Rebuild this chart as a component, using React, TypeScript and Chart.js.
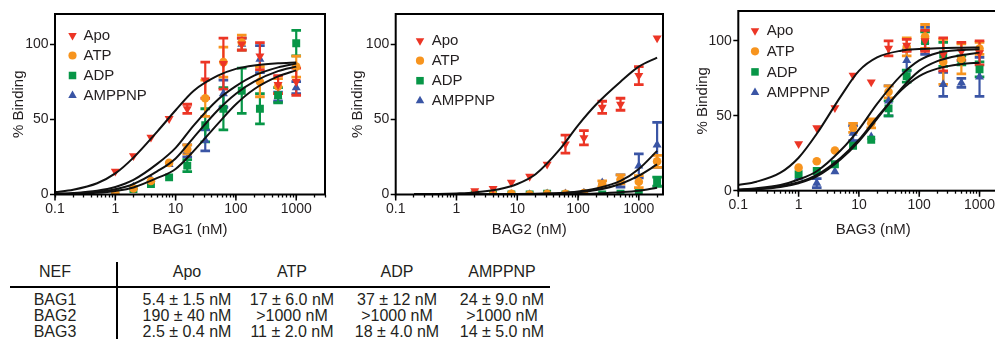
import React, { useEffect, useRef } from 'react';
import { Chart, registerables } from 'chart.js';
import { drawPoint } from 'chart.js/helpers';

Chart.register(...registerables);

const FONT = '"Liberation Sans", Arial, Helvetica, sans-serif';
const TEXT = '#231f20';

// ---------- shared labels / ticks ----------
const seriesNames = ['Apo', 'ATP', 'ADP', 'AMPPNP'];
const seriesColors = ['#ec3525', '#f7941e', '#079647', '#3a55a5'];
const seriesStyles = ['triangle', 'circle', 'rect', 'triangle'];
const seriesRotations = [180, 0, 0, 0];
const seriesRadii = [5.2, 4.3, 5.6, 5.2];

const yTickValues = [0, 50, 100];
const xTickLabels = [0.1, 1, 10, 100, 1000];
const xMinorMultipliers = [2, 3, 4, 5, 6, 7, 8, 9];

// ---------- BAG1 ----------
const bag1Conc = [1, 2, 3.9, 7.8, 15.6, 31, 62, 125, 250, 500, 1000];
const bag1Apo = [15.4, 25.7, 38, 50.4, 57, 76, 87, 100, 92, 73, 75];
const bag1ApoErr = [0, 0, 0, 0, 3, 12, 17, 4, 9, 6, 9];
const bag1ATP = [1, 4, 9, 21, 30, 64, 88, 101, 75, 72, 85];
const bag1ATPErr = [0, 0, 0, 0, 3, 12, 10, 5, 10, 5, 7];
const bag1ADP = [1, 3.6, 7, 11.4, 19.2, 46, 57, 69, 57, 66, 100.6];
const bag1ADPErr = [0, 0, 0, 0, 4, 11, 14, 15, 10, 5, 8.5];
const bag1AMPPNP = [1, 5, 10, 20, 29, 36, 67, 100, 90, 65, 71];
const bag1AMPPNPErr = [0, 0, 0, 0, 4, 7, 9, 4, 9, 3, 4];

const bag1FitX = [0.1, 0.2, 0.5, 1, 2, 5, 10, 20, 50, 100, 200, 500, 1000];
const bag1FitApo = [1.6, 3.2, 7.5, 14, 24.5, 42, 56, 69, 79, 83.5, 85.8, 87.2, 87.8];
const bag1FitATP = [0.5, 1, 2.5, 5, 9.7, 20.5, 31, 46, 63, 72, 79, 84.5, 87];
const bag1FitADP = [0.25, 0.5, 1.2, 2.4, 4.7, 11, 17, 29, 47, 60, 70, 78.5, 82.5];
const bag1FitAMPPNP = [0.35, 0.7, 1.8, 3.5, 7, 15.5, 24, 38, 56, 67, 75, 82, 85];

// ---------- BAG2 ----------
const bag2Conc = [2, 4, 8, 16, 31, 62, 125, 250, 500, 1000, 2000];
const bag2Apo = [2.5, 4, 8, 12, 20, 33.5, 37.7, 58, 60, 79, 104];
const bag2ApoErr = [0, 0, 0, 0, 0, 6, 4.7, 4, 4, 6, 0];
const bag2ATP = [0, 0, 0.5, 0, 0.5, 0.5, 1, 7, 10, 8.5, 22];
const bag2ATPErr = [0, 0, 0, 0, 0, 0, 0, 2, 3, 4, 4];
const bag2ADP = [0, 0, 0, 0, 0.5, 0, 0, 0, 0.5, 1, 8.5];
const bag2ADPErr = [0, 0, 0, 0, 0, 0, 0, 0, 0, 0, 3];
const bag2AMPPNP = [0, 0, 0, 0, 0.5, 0.5, 1, 7.8, 9, 19, 33];
const bag2AMPPNPErr = [0, 0, 0, 0, 0, 0, 0, 0, 4, 8, 15];

const bag2FitX = [0.2, 0.5, 1, 2, 5, 10, 20, 50, 100, 200, 500, 1000, 2000];
const bag2FitApo = [0.1, 0.3, 0.7, 1.4, 3.5, 7, 13.5, 30, 46, 60, 75, 85, 91];
const bag2FitATP = [0, 0, 0, 0, 0.1, 0.2, 0.4, 0.8, 1.5, 3, 7, 12.5, 20];
const bag2FitADP = [0, 0, 0, 0, 0, 0, 0.1, 0.2, 0.3, 0.7, 1.5, 2.5, 4.5];
const bag2FitAMPPNP = [0, 0, 0, 0.1, 0.2, 0.3, 0.5, 1, 2, 4, 9, 17, 29];

// ---------- BAG3 ----------
const bag3Conc = [1, 2, 4, 8, 16, 31, 62, 125, 250, 500, 1000];
const bag3Apo = [31.3, 41.9, 55.3, 77, 72.5, 95, 97, 100, 91, 93, 92];
const bag3ApoErr = [0, 0, 0, 0, 0, 5, 4, 7, 11, 6, 8];
const bag3ATP = [15.4, 19.7, 26.8, 42, 45, 66, 96, 103, 86, 88, 95];
const bag3ATPErr = [0, 0, 0, 3, 3, 4, 6, 8, 15, 10, 4];
const bag3ADP = [11, 13.2, 17.7, 30, 34, 55, 76.5, 100, 91, 87, 81];
const bag3ADPErr = [0, 0, 0, 0, 0, 5, 4, 6, 8, 3, 5];
const bag3AMPPNP = [9, 5, 12.8, 38.5, 36, 60, 87, 100, 71, 72, 76];
const bag3AMPPNPErr = [0, 3, 0, 5, 0, 10, 7, 9, 8, 3, 13];

const bag3FitX = [0.1, 0.2, 0.5, 1, 2, 5, 10, 20, 50, 100, 200, 500, 1000];
const bag3FitApo = [3.8, 6, 12, 22, 38, 63, 80, 89, 93.5, 94.6, 95.2, 95.5, 95.6];
const bag3FitATP = [0.8, 1.6, 3.8, 7.5, 13, 27, 41, 58, 77, 87, 92, 94, 94.5];
const bag3FitADP = [0.5, 1, 2.5, 5, 9.5, 21, 33, 48, 68, 80, 86.5, 90.5, 92.2];
const bag3FitAMPPNP = [0.6, 1.2, 2.9, 5.6, 10.5, 22, 34, 49, 67, 76.5, 81.5, 84.5, 85.5];

// ---------- table ----------
const tableHeader = ['NEF', 'Apo', 'ATP', 'ADP', 'AMPPNP'];
const tableRows = [
  ['BAG1', '5.4 ± 1.5 nM', '17 ± 6.0 nM', '37 ± 12 nM', '24 ± 9.0 nM'],
  ['BAG2', '190 ± 40 nM', '>1000 nM', '>1000 nM', '>1000 nM'],
  ['BAG3', '2.5 ± 0.4 nM', '11 ± 2.0 nM', '18 ± 4.0 nM', '14 ± 5.0 nM'],
];

// ---------- layout (not data) ----------
type Panel = {
  title: string;
  xMax: number;
  conc: number[];
  values: number[][];
  errors: number[][];
  fitX: number[];
  fits: number[][];
  box: { left: number; top: number; width: number; height: number };
  area: { left: number; top: number; right: number; bottom: number };
  yTitlePad: number;
  xTitlePad: number;
  legend: { dx: number; dy: number; textDx: number; step: number };
};

const panels: Panel[] = [
  {
    title: 'BAG1 (nM)', xMax: 3000, conc: bag1Conc,
    values: [bag1Apo, bag1ATP, bag1ADP, bag1AMPPNP],
    errors: [bag1ApoErr, bag1ATPErr, bag1ADPErr, bag1AMPPNPErr],
    fitX: bag1FitX, fits: [bag1FitApo, bag1FitATP, bag1FitADP, bag1FitAMPPNP],
    box: { left: 0, top: 0, width: 340, height: 240 },
    area: { left: 55, top: 14, right: 325, bottom: 194.5 },
    yTitlePad: 9.5, xTitlePad: 1,
    legend: { dx: 17.5, dy: 21.5, textDx: 28.5, step: 20 },
  },
  {
    title: 'BAG2 (nM)', xMax: 2500, conc: bag2Conc,
    values: [bag2Apo, bag2ATP, bag2ADP, bag2AMPPNP],
    errors: [bag2ApoErr, bag2ATPErr, bag2ADPErr, bag2AMPPNPErr],
    fitX: bag2FitX, fits: [bag2FitApo, bag2FitATP, bag2FitADP, bag2FitAMPPNP],
    box: { left: 340, top: 0, width: 340, height: 240 },
    area: { left: 55.7, top: 14, right: 323, bottom: 194.5 },
    yTitlePad: 9.3, xTitlePad: 1,
    legend: { dx: 24.3, dy: 26.7, textDx: 36, step: 20 },
  },
  {
    title: 'BAG3 (nM)', xMax: 3000, conc: bag3Conc,
    values: [bag3Apo, bag3ATP, bag3ADP, bag3AMPPNP],
    errors: [bag3ApoErr, bag3ATPErr, bag3ADPErr, bag3AMPPNPErr],
    fitX: bag3FitX, fits: [bag3FitApo, bag3FitATP, bag3FitADP, bag3FitAMPPNP],
    box: { left: 690, top: 0, width: 340, height: 240 },
    area: { left: 48.3, top: 11, right: 318.3, bottom: 190.7 },
    yTitlePad: 4.3, xTitlePad: 1,
    legend: { dx: 16.7, dy: 19.7, textDx: 28.4, step: 20.6 },
  },
];

function buildLogTicks(max: number) {
  const ticks: { value: number; major: boolean }[] = [];
  for (const decade of xTickLabels) {
    if (decade <= max) ticks.push({ value: decade, major: true });
    for (const m of xMinorMultipliers) {
      const v = +(decade * m).toPrecision(6);
      if (v <= max) ticks.push({ value: v, major: false });
    }
  }
  return ticks;
}

function buildConfig(p: Panel): any {
  const datasets: any[] = [];
  p.fits.forEach((fy, s) => {
    datasets.push({
      label: seriesNames[s] + ' fit',
      data: p.fitX.map((x, i) => ({ x, y: fy[i] })),
      showLine: true,
      borderColor: '#111111',
      borderWidth: 2,
      pointRadius: 0,
      cubicInterpolationMode: 'monotone',
      fill: false,
      order: 0,
    });
  });
  p.values.forEach((vals, s) => {
    datasets.push({
      label: seriesNames[s],
      data: p.conc.map((x, i) => ({ x, y: vals[i] })),
      errors: p.errors[s],
      showLine: false,
      pointStyle: seriesStyles[s],
      pointRotation: seriesRotations[s],
      pointRadius: seriesRadii[s],
      pointBackgroundColor: seriesColors[s],
      backgroundColor: seriesColors[s],
      borderColor: seriesColors[s],
      pointBorderWidth: 0,
      order: 1 + s,
    });
  });

  const decor = {
    id: 'decor',
    beforeDatasetsDraw(chart: any) {
      const ctx = chart.ctx;
      const xs = chart.scales.x;
      const ys = chart.scales.y;
      ctx.save();
      for (let d = chart.data.datasets.length - 1; d >= 0; d--) {
        const ds = chart.data.datasets[d];
        if (!ds.errors) continue;
        ctx.strokeStyle = ds.backgroundColor;
        ds.data.forEach((pt: any, i: number) => {
          const e = ds.errors[i];
          if (!e) return;
          const px = xs.getPixelForValue(pt.x);
          const yTop = ys.getPixelForValue(pt.y + e);
          const yBot = ys.getPixelForValue(pt.y - e);
          ctx.lineWidth = 2.2;
          ctx.beginPath();
          ctx.moveTo(px, yTop);
          ctx.lineTo(px, yBot);
          ctx.stroke();
          ctx.lineWidth = 2.8;
          ctx.beginPath();
          ctx.moveTo(px - 4.8, yTop);
          ctx.lineTo(px + 4.8, yTop);
          ctx.moveTo(px - 4.8, yBot);
          ctx.lineTo(px + 4.8, yBot);
          ctx.stroke();
        });
      }
      ctx.restore();
    },
    afterDraw(chart: any) {
      const ctx = chart.ctx;
      const a = chart.chartArea;
      const xs = chart.scales.x;
      ctx.save();
      ctx.strokeStyle = '#000';
      ctx.lineWidth = 2;
      ctx.strokeRect(a.left, a.top, a.right - a.left, a.bottom - a.top);
      ctx.lineWidth = 1.5;
      ctx.beginPath();
      for (const v of xTickLabels) {
        if (v > p.xMax) continue;
        const px = xs.getPixelForValue(v);
        ctx.moveTo(px, a.bottom);
        ctx.lineTo(px, a.bottom + 6);
      }
      ctx.stroke();
      ctx.font = `15px ${FONT}`;
      ctx.textBaseline = 'middle';
      ctx.textAlign = 'left';
      seriesNames.forEach((name, s) => {
        const y = a.top + p.legend.dy + s * p.legend.step;
        const mx = a.left + p.legend.dx;
        ctx.fillStyle = seriesColors[s];
        drawPoint(ctx, {
          pointStyle: seriesStyles[s],
          rotation: seriesRotations[s],
          radius: seriesRadii[s] * 0.95,
          borderWidth: 0,
        } as any, mx, y);
        ctx.fillStyle = TEXT;
        ctx.fillText(name, a.left + p.legend.textDx, y + 0.5);
      });
      ctx.restore();
    },
  };

  return {
    type: 'scatter',
    data: { datasets },
    options: {
      responsive: false,
      animation: false,
      devicePixelRatio: 1,
      layout: {
        padding: {
          left: 0,
          top: p.area.top,
          right: p.box.width - p.area.right,
          bottom: 0,
        },
      },
      plugins: {
        legend: { display: false },
        tooltip: { enabled: false },
        title: { display: false },
      },
      scales: {
        x: {
          type: 'logarithmic',
          min: 0.1,
          max: p.xMax,
          afterBuildTicks: (scale: any) => {
            scale.ticks = buildLogTicks(p.xMax);
          },
          afterFit: (scale: any) => {
            scale.height = p.box.height - p.area.bottom;
          },
          grid: {
            display: true,
            drawOnChartArea: false,
            drawTicks: true,
            tickLength: 3,
            tickColor: '#000',
            tickWidth: 1.3,
          },
          border: { display: false },
          ticks: {
            autoSkip: false,
            maxRotation: 0,
            minRotation: 0,
            padding: 3.5,
            color: TEXT,
            font: { family: FONT, size: 14 },
            callback: (v: any) => (xTickLabels.includes(Number(v)) ? String(v) : ''),
          },
          title: {
            display: true,
            text: p.title,
            color: TEXT,
            font: { family: FONT, size: 15 },
            padding: { top: 0, bottom: p.xTitlePad },
          },
        },
        y: {
          type: 'linear',
          min: 0,
          max: 120,
          afterBuildTicks: (scale: any) => {
            scale.ticks = yTickValues.map((v) => ({ value: v }));
          },
          afterFit: (scale: any) => {
            scale.width = p.area.left;
          },
          grid: {
            display: true,
            drawOnChartArea: false,
            drawTicks: true,
            tickLength: 5,
            tickColor: '#000',
            tickWidth: 1.5,
          },
          border: { display: false },
          ticks: {
            padding: 1.5,
            color: TEXT,
            font: { family: FONT, size: 14 },
            callback: (v: any) => String(v),
          },
          title: {
            display: true,
            text: '% Binding',
            color: TEXT,
            font: { family: FONT, size: 15 },
            padding: { top: p.yTitlePad, bottom: 0 },
          },
        },
      },
    },
    plugins: [decor],
  };
}

function ChartPanel({ panel }: { panel: Panel }) {
  const ref = useRef<HTMLCanvasElement>(null);
  useEffect(() => {
    const chart = new Chart(ref.current as HTMLCanvasElement, buildConfig(panel));
    return () => chart.destroy();
  }, [panel]);
  const b = panel.box;
  return (
    <canvas
      ref={ref}
      width={b.width}
      height={b.height}
      style={{ position: 'absolute', left: b.left, top: b.top, width: b.width, height: b.height }}
    />
  );
}

const colCenters = [55, 187, 292, 397, 502];
const headerY = 272;
const rowYs = [300, 316, 332];

function Cell({ text, x, y }: { text: string; x: number; y: number }) {
  return (
    <div
      style={{
        position: 'absolute',
        left: x,
        top: y,
        transform: 'translate(-50%, -50%)',
        whiteSpace: 'nowrap',
        fontFamily: FONT,
        fontSize: 16,
        color: TEXT,
        lineHeight: 1,
      }}
    >
      {text}
    </div>
  );
}

export default function App() {
  return (
    <div
      style={{
        position: 'fixed',
        left: 0,
        top: 0,
        width: 995,
        height: 339,
        overflow: 'hidden',
        background: '#ffffff',
      }}
    >
      {panels.map((p, i) => (
        <ChartPanel key={i} panel={p} />
      ))}
      {tableHeader.map((h, c) => (
        <Cell key={'h' + c} text={h} x={colCenters[c]} y={headerY} />
      ))}
      {tableRows.map((row, r) =>
        row.map((t, c) => <Cell key={r + '-' + c} text={t} x={colCenters[c]} y={rowYs[r]} />)
      )}
      <div style={{ position: 'absolute', left: 10, top: 285.5, width: 540, height: 2, background: '#000' }} />
      <div style={{ position: 'absolute', left: 116, top: 262, width: 2, height: 77, background: '#000' }} />
    </div>
  );
}
